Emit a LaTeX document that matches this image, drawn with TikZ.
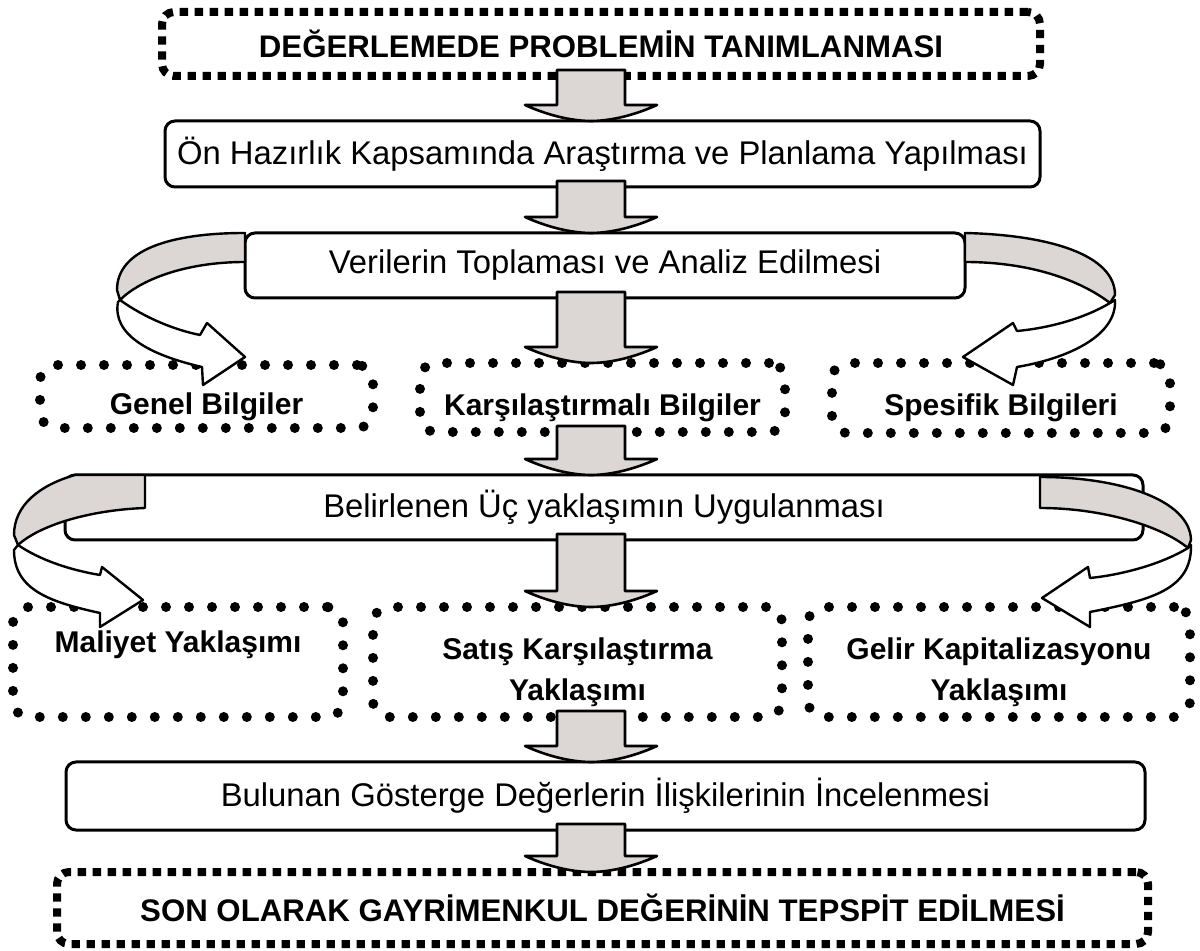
\documentclass[tikz,border=0pt]{standalone}
\usepackage{fontspec}
\setmainfont{Liberation Sans}
\usetikzlibrary{positioning,calc}
\definecolor{arrowgrey}{RGB}{220,214,212}

\begin{document}
\begin{tikzpicture}
[
x=0.5pt, y=-0.5pt,
head-box/.style={draw, line width=4pt, dash pattern=on 4.2pt off 3.3pt, rounded corners=6pt, inner sep=0pt, outer sep=0pt, font=\bfseries\fontsize{15.6}{18}\selectfont},
step-box/.style={draw, line width=1.5pt, rounded corners=5pt, inner sep=0pt, outer sep=0pt, font=\fontsize{16.4}{19}\selectfont},
info-box/.style={draw, line width=5pt, dash pattern=on 0pt off 11.5pt, line cap=round, rounded corners=8pt, inner sep=0pt, outer sep=0pt, align=center, text height=18pt, text depth=0pt, font=\bfseries\fontsize{15}{20.5}\selectfont},
block-arrow/.style={draw, line width=1.3pt, fill=arrowgrey, line join=round},
ribbon-back/.style={draw, line width=1.2pt, fill=arrowgrey, line join=round},
ribbon-front/.style={draw, line width=1.2pt, fill=white, line join=round}
]

\useasboundingbox (0,0) rectangle (1200,951);

\node (box-top)      [head-box, minimum width=439pt,   minimum height=32pt]   at (601,44)     {DEĞERLEMEDE PROBLEMİN TANIMLANMASI};
\node (box-prep)     [step-box, minimum width=437.5pt, minimum height=33pt]   at (602.5,154)  {Ön Hazırlık Kapsamında Araştırma ve Planlama Yapılması};
\node (box-data)     [step-box, minimum width=360pt,   minimum height=32.5pt] at (605,265.5)  {Verilerin Toplaması ve Analiz Edilmesi};
\node (info-genel)   [info-box, minimum width=166.5pt, minimum height=31.5pt] at (206.5,396.5) {Genel Bilgiler};
\node (info-karsi)   [info-box, minimum width=182.5pt, minimum height=34.5pt] at (602.5,397.5) {Karşılaştırmalı Bilgiler};
\node (info-spes)    [info-box, minimum width=169pt,   minimum height=35pt]   at (1001,398)   {Spesifik Bilgileri};
\node (box-apply)    [step-box, minimum width=539pt,   minimum height=32.5pt] at (604,507.5)  {Belirlenen Üç yaklaşımın Uygulanması};
\node (info-maliyet) [info-box, text height=31.5pt, minimum width=165pt, minimum height=55pt] at (178,662) {Maliyet Yaklaşımı\\\mbox{}};
\node (info-satis)   [info-box, text height=38.5pt, minimum width=204.5pt, minimum height=55pt] at (577.5,662) {Satış Karşılaştırma\\Yaklaşımı};
\node (info-gelir)   [info-box, text height=38.5pt, minimum width=191pt, minimum height=55pt]   at (999,662)   {Gelir Kapitalizasyonu\\Yaklaşımı};
\node (box-review)   [step-box, minimum width=539.5pt, minimum height=34pt]   at (605.5,796)  {Bulunan Gösterge Değerlerin İlişkilerinin İncelenmesi};
\node (box-final)    [head-box, minimum width=545.5pt, minimum height=36pt]   at (602.5,908)  {SON OLARAK GAYRİMENKUL DEĞERİNİN TEPSPİT EDİLMESİ};

\coordinate (axis) at (591,0);

% straight block arrows
\foreach \from/\to in {box-top/box-prep, box-prep/box-data, box-data/info-karsi, info-karsi/box-apply, box-apply/info-satis, info-satis/box-review, box-review/box-final}
  \draw [block-arrow] let \p1 = (\from.south), \p2 = (\to.north), \p3 = (axis) in
    (\x3-17pt,\y1+3pt) -- (\x3+17pt,\y1+3pt) -- (\x3+17pt,\y2+8pt) -- (\x3+33pt,\y2+8pt)
    .. controls (\x3+22pt,\y2+3pt) and (\x3+10pt,\y2) .. (\x3,\y2)
    .. controls (\x3-10pt,\y2) and (\x3-22pt,\y2+3pt) .. (\x3-33pt,\y2+8pt)
    -- (\x3-17pt,\y2+8pt) -- cycle;

% twisted arrows, upper pair
\draw [ribbon-back]  (box-data.north west) .. controls (170,233) and (117,250) .. (117,290) -- (120,300) .. controls (140,280) and (185,262) .. (245,262) -- cycle;
\draw [ribbon-front] (120,300) .. controls (145,318) and (175,330) .. (200,335) -- (207,323) -- (245,357) -- (203,385) -- (202,367) .. controls (150,355) and (112,335) .. (118,302) -- cycle;
\draw [ribbon-back]  (box-data.north east) .. controls (1050,235) and (1115,255) .. (1115,295) -- (1110,303) .. controls (1080,280) and (1030,262) .. (965,262) -- cycle;
\draw [ribbon-front] (1110,303) .. controls (1085,318) and (1050,328) .. (1017,331) -- (1013,323) -- (963,357) -- (1013,385) -- (1017,367) .. controls (1070,358) and (1117,335) .. (1115,300) -- cycle;

% twisted arrows, lower pair
\draw [ribbon-back]  (145,475) -- (75,475) .. controls (40,485) and (14,505) .. (14,535) -- (18,545) .. controls (40,525) and (90,510) .. (145,508) -- cycle;
\draw [ribbon-front] (18,545) .. controls (40,560) and (70,570) .. (100,575) -- (102,567) -- (143,600) -- (100,627) -- (100,613) .. controls (50,602) and (14,590) .. (14,550) -- cycle;
\draw [ribbon-back]  (1040,477) .. controls (1120,477) and (1190,500) .. (1191,540) -- (1188,548) .. controls (1160,525) and (1100,508) .. (1040,508) -- cycle;
\draw [ribbon-front] (1188,548) .. controls (1160,565) and (1120,575) .. (1090,578) -- (1088,567) -- (1042,598) -- (1090,627) -- (1090,612) .. controls (1150,600) and (1192,590) .. (1191,545) -- cycle;

\end{tikzpicture}
\end{document}
